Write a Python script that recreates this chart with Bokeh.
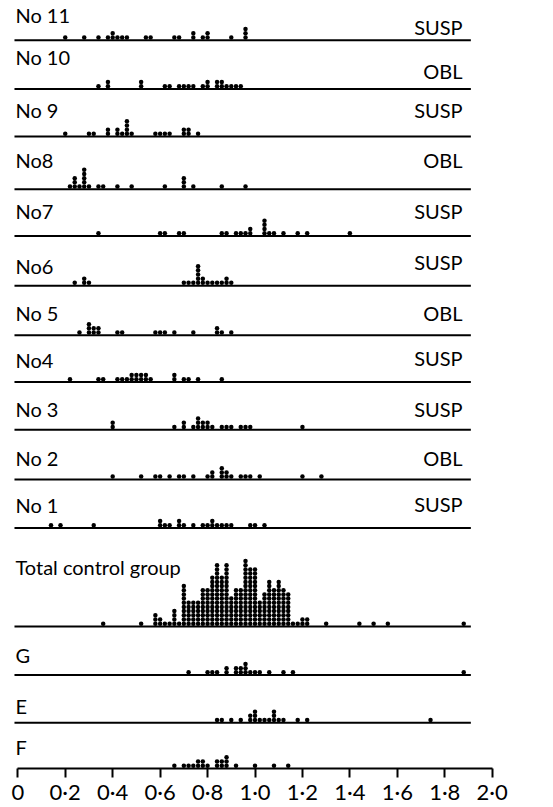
from bokeh.plotting import figure
from bokeh.models import Range1d, FixedTicker, ColumnDataSource
from bokeh.embed import file_html
from bokeh.resources import INLINE
from bokeh.core.properties import value

# ---------------- data (dot positions: value bins and dot counts) ----------------
ROW_LABELS = ["No 11", "No 10", "No 9", "No8", "No7", "No6", "No 5", "No4", "No 3", "No 2", "No 1",
              "Total control group", "G", "E", "F"]
ROW_TYPES = ["SUSP", "OBL", "SUSP", "OBL", "SUSP", "SUSP", "OBL", "SUSP", "SUSP", "OBL", "SUSP"]

NO11_X = [0.20, 0.28, 0.34, 0.38, 0.40, 0.42, 0.44, 0.46, 0.54, 0.56, 0.66, 0.68, 0.74, 0.78, 0.80, 0.90, 0.96]
NO11_N = [1, 1, 1, 1, 2, 1, 1, 1, 1, 1, 1, 1, 2, 1, 2, 1, 3]
NO10_X = [0.34, 0.38, 0.52, 0.62, 0.64, 0.68, 0.70, 0.72, 0.74, 0.78, 0.80, 0.84, 0.86, 0.88, 0.90, 0.92, 0.94]
NO10_N = [1, 2, 2, 1, 1, 1, 1, 1, 1, 1, 2, 2, 2, 1, 1, 1, 1]
NO9_X = [0.20, 0.30, 0.32, 0.38, 0.42, 0.44, 0.46, 0.48, 0.58, 0.60, 0.62, 0.64, 0.70, 0.72, 0.76]
NO9_N = [1, 1, 1, 2, 2, 1, 4, 1, 1, 1, 1, 1, 2, 2, 1]
NO8_X = [0.22, 0.24, 0.26, 0.28, 0.30, 0.34, 0.36, 0.42, 0.48, 0.62, 0.70, 0.74, 0.86, 0.96]
NO8_N = [1, 3, 1, 5, 1, 1, 1, 1, 1, 1, 3, 1, 1, 1]
NO7_X = [0.34, 0.60, 0.62, 0.68, 0.70, 0.86, 0.88, 0.92, 0.94, 0.96, 0.98, 1.04, 1.06, 1.08, 1.12, 1.18, 1.22, 1.40]
NO7_N = [1, 1, 1, 1, 1, 1, 1, 1, 1, 1, 2, 4, 1, 1, 1, 1, 1, 1]
NO6_X = [0.24, 0.28, 0.30, 0.70, 0.72, 0.74, 0.76, 0.78, 0.80, 0.82, 0.84, 0.86, 0.88, 0.90]
NO6_N = [1, 2, 1, 1, 1, 1, 5, 2, 1, 1, 1, 1, 2, 1]
NO5_X = [0.26, 0.30, 0.32, 0.34, 0.42, 0.44, 0.58, 0.60, 0.62, 0.66, 0.74, 0.84, 0.86, 0.90]
NO5_N = [1, 3, 2, 2, 1, 1, 1, 1, 1, 1, 1, 2, 1, 1]
NO4_X = [0.22, 0.34, 0.36, 0.42, 0.44, 0.46, 0.48, 0.50, 0.52, 0.54, 0.56, 0.66, 0.70, 0.72, 0.76, 0.86]
NO4_N = [1, 1, 1, 1, 1, 1, 2, 2, 2, 2, 1, 2, 1, 1, 1, 1]
NO3_X = [0.40, 0.66, 0.70, 0.74, 0.76, 0.78, 0.80, 0.82, 0.86, 0.88, 0.90, 0.94, 0.96, 0.98, 1.20]
NO3_N = [2, 1, 2, 1, 3, 2, 2, 1, 1, 1, 1, 1, 1, 1, 1]
NO2_X = [0.40, 0.52, 0.58, 0.60, 0.64, 0.68, 0.70, 0.74, 0.80, 0.82, 0.86, 0.88, 0.90, 0.94, 0.96, 0.98, 1.02, 1.20, 1.28]
NO2_N = [1, 1, 1, 1, 1, 1, 1, 1, 1, 2, 3, 2, 1, 1, 1, 1, 1, 1, 1]
NO1_X = [0.14, 0.18, 0.32, 0.60, 0.62, 0.64, 0.68, 0.70, 0.74, 0.78, 0.80, 0.82, 0.84, 0.86, 0.88, 0.90, 0.98, 1.00, 1.04]
NO1_N = [1, 1, 1, 2, 1, 1, 2, 1, 1, 1, 1, 2, 1, 1, 1, 1, 1, 1, 1]
TOTAL_X = [0.36, 0.52, 0.58, 0.60, 0.62, 0.64, 0.66, 0.68,
           0.70, 0.72, 0.74, 0.76, 0.78, 0.80, 0.82, 0.84, 0.86, 0.88, 0.90, 0.92,
           0.94, 0.96, 0.98, 1.00, 1.02, 1.04, 1.06, 1.08, 1.10, 1.12, 1.14,
           1.16, 1.18, 1.20, 1.22, 1.30, 1.44, 1.50, 1.56, 1.88]
TOTAL_N = [1, 1, 3, 2, 1, 1, 4, 1,
           10, 6, 6, 6, 9, 9, 12, 15, 12, 15, 7, 9,
           9, 16, 14, 14, 6, 8, 11, 9, 11, 9, 8,
           1, 1, 2, 2, 1, 1, 1, 1, 1]
G_X = [0.72, 0.80, 0.82, 0.84, 0.88, 0.92, 0.94, 0.96, 0.98, 1.00, 1.02, 1.06, 1.12, 1.16, 1.88]
G_N = [1, 1, 1, 1, 2, 2, 2, 3, 1, 1, 1, 1, 1, 1, 1]
E_X = [0.84, 0.86, 0.90, 0.94, 0.98, 1.00, 1.02, 1.04, 1.06, 1.08, 1.10, 1.12, 1.18, 1.22, 1.74]
E_N = [1, 1, 1, 1, 2, 3, 1, 1, 1, 3, 1, 1, 1, 1, 1]
F_X = [0.66, 0.70, 0.72, 0.74, 0.76, 0.78, 0.80, 0.84, 0.86, 0.88, 0.92, 1.00, 1.08, 1.14]
F_N = [1, 1, 1, 1, 2, 2, 1, 2, 2, 3, 1, 1, 1, 1]

TICKS = [0, 0.2, 0.4, 0.6, 0.8, 1.0, 1.2, 1.4, 1.6, 1.8, 2.0]
TICK_LABELS = ["0", "0·2", "0·4", "0·6", "0·8", "1·0", "1·2", "1·4", "1·6", "1·8", "2·0"]

SERIES = [(NO11_X, NO11_N), (NO10_X, NO10_N), (NO9_X, NO9_N), (NO8_X, NO8_N), (NO7_X, NO7_N),
          (NO6_X, NO6_N), (NO5_X, NO5_N), (NO4_X, NO4_N), (NO3_X, NO3_N), (NO2_X, NO2_N),
          (NO1_X, NO1_N), (TOTAL_X, TOTAL_N), (G_X, G_N), (E_X, E_N), (F_X, F_N)]

# ---------------- layout (vertical units = pixels, downward) ----------------
BASELINES = [40, 89, 137, 190, 237, 287, 337, 384, 432, 482, 531, 630, 679, 727, 773]
LEFT_LABEL_Y = [15, 57, 110, 161, 212, 267, 315, 362, 411, 460, 508, 570, 659, 710, 751]
RIGHT_LABEL_Y = [27, 71, 110, 161, 212, 263, 315, 360, 411, 460, 507]
TOP_Y = 0
LINE_X0, LINE_X1 = -0.014, 1.91
LABEL_X = -0.010
RIGHT_X = 1.875
DOT_LIFT = 2.8
DOT_STEP = 4.2
FONT = "Lato"

PX0, PX_PER_UNIT = 17.3, 237.2
W, H = 545, 807
x_start = -PX0 / PX_PER_UNIT
x_end = x_start + W / PX_PER_UNIT

p = figure(width=W, height=H, output_backend="svg", toolbar_location=None,
           x_range=Range1d(x_start, x_end), y_range=Range1d(BASELINES[-1], TOP_Y),
           y_axis_location=None, x_axis_location="below",
           min_border_left=0, min_border_right=0, min_border_top=0, min_border_bottom=36)
p.outline_line_color = None
p.grid.visible = False
p.background_fill_color = "white"
p.border_fill_color = "white"

# baselines for each row (the last row uses the axis itself)
p.segment(x0=[LINE_X0] * (len(BASELINES) - 1), x1=[LINE_X1] * (len(BASELINES) - 1),
          y0=BASELINES[:-1], y1=BASELINES[:-1], line_color="black", line_width=2)

# stacked dots
dx, dy = [], []
for (xs, ns), base in zip(SERIES, BASELINES):
    for x, n in zip(xs, ns):
        for k in range(n):
            dx.append(x)
            dy.append(base - DOT_LIFT - k * DOT_STEP)
p.scatter(x="x", y="y", source=ColumnDataSource(dict(x=dx, y=dy)),
          marker="circle", size=4.5, fill_color="black", line_color=None)

# labels
p.text(x=[LABEL_X] * len(ROW_LABELS), y=LEFT_LABEL_Y, text=ROW_LABELS,
       text_font=value(FONT), text_font_size="20px", text_color="black",
       text_align="left", text_baseline="alphabetic")
p.text(x=[RIGHT_X] * len(ROW_TYPES), y=RIGHT_LABEL_Y, text=ROW_TYPES,
       text_font=value(FONT), text_font_size="20px", text_color="black",
       text_align="right", text_baseline="alphabetic")

ax = p.xaxis[0]
ax.ticker = FixedTicker(ticks=TICKS)
ax.major_label_overrides = {t: l for t, l in zip(TICKS, TICK_LABELS)}
ax.bounds = (0, 2.0)
ax.axis_line_width = 2
ax.axis_line_color = "black"
ax.major_tick_line_width = 2
ax.major_tick_line_color = "black"
ax.major_tick_out = 9
ax.major_tick_in = 0
ax.minor_tick_line_color = None
ax.major_label_standoff = 0
ax.major_label_text_font = FONT
ax.major_label_text_font_size = "22px"
ax.major_label_text_color = "black"

open("out.html", "w").write(file_html(p, INLINE))
